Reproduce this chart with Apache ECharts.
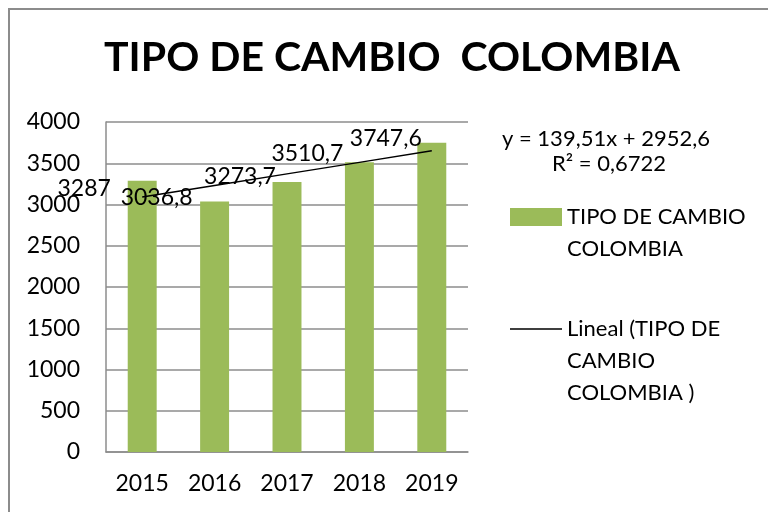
<!DOCTYPE html>
<html>
<head>
<meta charset="utf-8">
<script src="https://cdn.jsdelivr.net/npm/echarts@6/dist/echarts.min.js"></script>
<style>html,body{margin:0;padding:0;background:#fff}#c{width:768px;height:512px}</style>
</head>
<body>
<div id="c"></div>
<script>
const years = ['2015', '2016', '2017', '2018', '2019'];
const rates = [3287, 3036.8, 3273.7, 3510.7, 3747.6];
const trend = [3092.1, 3231.6, 3371.1, 3510.6, 3650.2];
const yTicks = { min: 0, max: 4000, interval: 500 };
const titleText = 'TIPO DE CAMBIO  COLOMBIA';
const barName = 'TIPO DE CAMBIO COLOMBIA';
const lineName = 'Lineal (TIPO DE CAMBIO COLOMBIA )';
const equation = 'y = 139,51x + 2952,6';
const rSquared = 'R² = 0,6722';

// label placement (styling, Excel-like offsets)
const labelOffsets = [[-58, 19], [-58, 8], [-47, 6], [-52, 3], [-46, 7]];

const FONT = 'Lato';
const fmt = v => String(v).replace('.', ',');
const legendText = {};
legendText[barName] = 'TIPO DE CAMBIO\nCOLOMBIA';
legendText[lineName] = 'Lineal (TIPO DE\nCAMBIO\nCOLOMBIA )';

// legend icons aligned with the first text line
const barIcon = 'path://M0,0L52,0L52,18L0,18Z M0,50L0.01,50';
const lineIcon = 'path://M0,0L52,0L52,1.5L0,1.5Z M0,65.5L0.01,65.5';

const chart = echarts.init(document.getElementById('c'), null, { renderer: 'canvas' });
chart.setOption({
  backgroundColor: '#fff',
  animation: false,
  textStyle: { fontFamily: FONT, color: '#000' },
  title: {
    text: titleText,
    left: 104, top: 37, padding: 0,
    textStyle: { fontFamily: FONT, fontWeight: 'bold', fontSize: 41, color: '#000' }
  },
  grid: { left: 106, right: 300, top: 122, bottom: 60 },
  legend: [
    {
      data: [{ name: barName, icon: barIcon }], orient: 'vertical', left: 510, top: 201, padding: 0,
      itemWidth: 52, itemHeight: 50,
      formatter: n => legendText[n],
      textStyle: { fontFamily: FONT, fontSize: 22, color: '#000', lineHeight: 32 }
    },
    {
      data: [{ name: lineName, icon: lineIcon }], orient: 'vertical', left: 510, top: 313, padding: 0,
      itemWidth: 52, itemHeight: 65.5,
      formatter: n => legendText[n],
      itemStyle: { color: '#000' },
      textStyle: { fontFamily: FONT, fontSize: 22, color: '#000', lineHeight: 32 }
    }
  ],
  xAxis: {
    type: 'category', data: years,
    axisLine: { show: true, lineStyle: { color: '#8c8c8c', width: 1.5 } },
    axisTick: { show: false },
    axisLabel: { fontFamily: FONT, fontSize: 23, color: '#000', margin: 20 }
  },
  yAxis: {
    type: 'value', min: yTicks.min, max: yTicks.max, interval: yTicks.interval,
    axisLine: { show: true, lineStyle: { color: '#8c8c8c', width: 1.5 } },
    axisTick: { show: false },
    splitLine: { lineStyle: { color: '#8c8c8c', width: 1.5 } },
    axisLabel: { fontFamily: FONT, fontSize: 23, color: '#000', margin: 26, formatter: v => String(v) }
  },
  series: [
    {
      name: barName, type: 'bar', barWidth: '40%',
      itemStyle: { color: '#9BBB59' },
      data: rates.map((v, i) => ({
        value: v,
        label: { offset: labelOffsets[i] }
      })),
      label: {
        show: true, position: 'top', distance: 0,
        fontFamily: FONT, fontSize: 23, color: '#000',
        formatter: p => fmt(p.value)
      },
      z: 2
    },
    {
      name: lineName, type: 'line', data: trend,
      symbol: 'none', showSymbol: false,
      lineStyle: { color: '#000', width: 1.5 },
      itemStyle: { color: '#000' },
      z: 3
    }
  ],
  graphic: [
    {
      type: 'rect', silent: true,
      shape: { x: 9, y: 9, width: 800, height: 600 },
      style: { fill: 'none', stroke: '#8c8c8c', lineWidth: 2 }
    },
    {
      type: 'text', left: 502, top: 128,
      style: { text: equation, fontFamily: FONT, fontSize: 22, fill: '#000' }
    },
    {
      type: 'text', left: 552, top: 153,
      style: { text: rSquared, fontFamily: FONT, fontSize: 22, fill: '#000' }
    }
  ]
});
</script>
</body>
</html>
